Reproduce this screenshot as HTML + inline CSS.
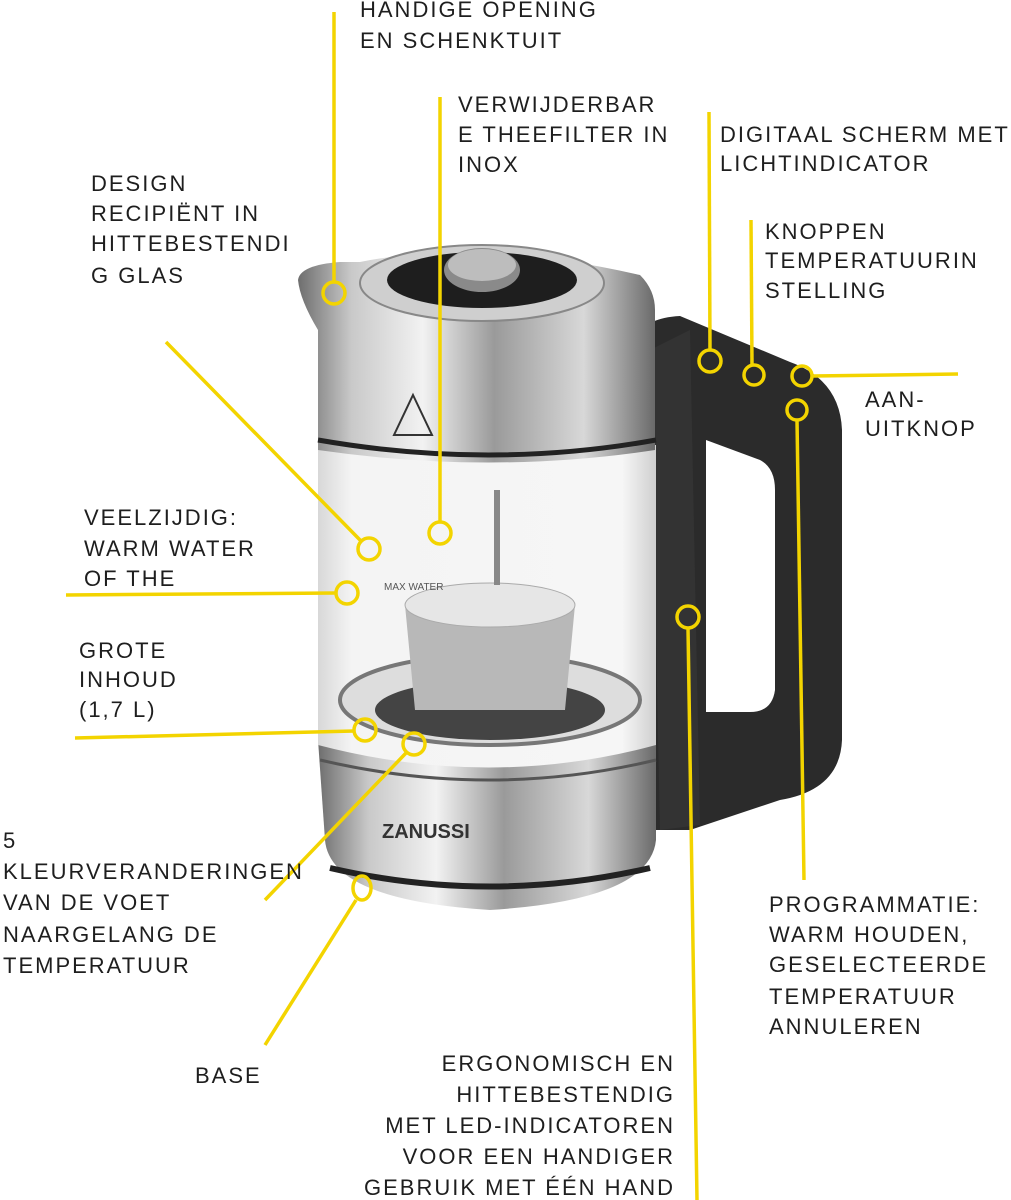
<!DOCTYPE html>
<html><head><meta charset="utf-8"><style>
html,body{margin:0;padding:0;background:#fff}
svg{display:block}
text{font-family:"Liberation Sans",sans-serif;font-size:22px;fill:#1e1e1e;letter-spacing:2px}
</style></head><body>
<svg width="1011" height="1200" viewBox="0 0 1011 1200" xmlns="http://www.w3.org/2000/svg">
<defs>
<linearGradient id="steel" x1="0" x2="1" y1="0" y2="0">
<stop offset="0" stop-color="#6e6e6e"/><stop offset="0.15" stop-color="#c9c9c9"/><stop offset="0.35" stop-color="#f2f2f2"/><stop offset="0.55" stop-color="#9a9a9a"/><stop offset="0.8" stop-color="#d8d8d8"/><stop offset="1" stop-color="#6a6a6a"/>
</linearGradient>
<linearGradient id="glass" x1="0" x2="1">
<stop offset="0" stop-color="#d8d8d8"/><stop offset="0.1" stop-color="#f4f4f4"/><stop offset="0.9" stop-color="#f6f6f6"/><stop offset="1" stop-color="#cfcfcf"/>
</linearGradient>
</defs>
<!-- handle -->
<path d="M632,345 Q640,318 680,316 L790,362 Q840,380 842,430 L842,740 Q840,790 780,800 L690,830 L655,830 L655,360 Z" fill="#2b2b2b"/>
<path d="M706,440 L760,460 Q775,468 775,490 L775,690 Q772,712 750,712 L706,712 Z" fill="#fff"/>
<path d="M650,350 L690,330 L700,825 L660,830 Z" fill="#333"/>
<!-- base -->
<path d="M318,740 L656,740 L656,840 Q650,900 490,910 Q330,900 325,840 Z" fill="url(#steel)"/>
<path d="M330,868 Q490,905 650,868" stroke="#222" stroke-width="6" fill="none"/>
<path d="M320,760 Q490,800 656,760" stroke="#555" stroke-width="3" fill="none"/>
<text x="382" y="838" style="font-size:20px;font-weight:bold;fill:#333;letter-spacing:0">ZANUSSI</text>
<!-- glass -->
<path d="M318,445 L656,445 L656,745 Q490,790 318,745 Z" fill="url(#glass)"/>
<ellipse cx="490" cy="700" rx="150" ry="45" fill="#ddd" stroke="#777" stroke-width="4"/>
<ellipse cx="490" cy="710" rx="115" ry="30" fill="#444"/>
<path d="M405,605 L575,605 L565,710 L415,710 Z" fill="#b8b8b8"/>
<ellipse cx="490" cy="605" rx="85" ry="22" fill="#e6e6e6" stroke="#aaa"/>
<rect x="494" y="490" width="6" height="95" fill="#888"/>
<text x="384" y="590" style="font-size:10px;fill:#555;letter-spacing:0">MAX WATER</text>
<!-- upper steel body -->
<path d="M298,280 Q300,265 340,262 L360,262 Q480,238 640,275 Q655,290 655,310 L655,450 Q490,475 318,450 L318,330 Q300,300 298,280 Z" fill="url(#steel)"/>
<path d="M318,440 Q490,470 656,440" stroke="#222" stroke-width="5" fill="none"/>
<ellipse cx="482" cy="283" rx="122" ry="38" fill="#cfcfcf" stroke="#888" stroke-width="2"/>
<ellipse cx="482" cy="280" rx="95" ry="28" fill="#1e1e1e"/>
<ellipse cx="482" cy="270" rx="38" ry="22" fill="#8a8a8a"/>
<ellipse cx="482" cy="265" rx="34" ry="16" fill="#bdbdbd"/>
<path d="M413,395 L432,435 L394,435 Z" fill="none" stroke="#333" stroke-width="2"/>
<!-- yellow annotations -->
<g stroke="#f3d400" stroke-width="3.5" fill="none">
<line x1="334" y1="12" x2="334" y2="282"/><circle cx="334" cy="293" r="11"/>
<line x1="440" y1="97" x2="440" y2="522"/><circle cx="440" cy="533" r="11"/>
<line x1="709" y1="112" x2="710" y2="350"/><circle cx="710" cy="361" r="11"/>
<line x1="751" y1="220" x2="752" y2="364"/><circle cx="754" cy="375" r="10"/>
<line x1="958" y1="374" x2="813" y2="376"/><circle cx="802" cy="376" r="10"/>
<circle cx="797" cy="410" r="10"/><line x1="797" y1="420" x2="804" y2="880"/>
<line x1="166" y1="342" x2="361" y2="541"/><circle cx="369" cy="549" r="11"/>
<line x1="66" y1="595" x2="336" y2="593"/><circle cx="347" cy="593" r="11"/>
<line x1="75" y1="738" x2="354" y2="731"/><circle cx="365" cy="730" r="11"/>
<circle cx="414" cy="744" r="11"/><line x1="406" y1="753" x2="265" y2="900"/>
<ellipse cx="362" cy="888" rx="9" ry="12"/><line x1="356" y1="900" x2="265" y2="1045"/>
<circle cx="688" cy="617" r="11"/><line x1="688" y1="628" x2="697" y2="1200"/>
</g>
<!-- labels -->
<text x="360" y="17">HANDIGE OPENING</text><text x="360" y="48">EN SCHENKTUIT</text>
<text x="458" y="112">VERWIJDERBAR</text><text x="458" y="142">E THEEFILTER IN</text><text x="458" y="172">INOX</text>
<text x="720" y="142">DIGITAAL SCHERM MET</text><text x="720" y="171">LICHTINDICATOR</text>
<text x="91" y="191">DESIGN</text><text x="91" y="221">RECIPIËNT IN</text><text x="91" y="251">HITTEBESTENDI</text><text x="91" y="283">G GLAS</text>
<text x="765" y="239">KNOPPEN</text><text x="765" y="268">TEMPERATUURIN</text><text x="765" y="298">STELLING</text>
<text x="865" y="407">AAN-</text><text x="865" y="436">UITKNOP</text>
<text x="84" y="525">VEELZIJDIG:</text><text x="84" y="556">WARM WATER</text><text x="84" y="586">OF THE</text>
<text x="79" y="658">GROTE</text><text x="79" y="687">INHOUD</text><text x="79" y="717">(1,7 L)</text>
<text x="3" y="848">5</text><text x="3" y="879">KLEURVERANDERINGEN</text><text x="3" y="910">VAN DE VOET</text><text x="3" y="942">NAARGELANG DE</text><text x="3" y="973">TEMPERATUUR</text>
<text x="195" y="1083">BASE</text>
<text x="769" y="912">PROGRAMMATIE:</text><text x="769" y="942">WARM HOUDEN,</text><text x="769" y="972">GESELECTEERDE</text><text x="769" y="1004">TEMPERATUUR</text><text x="769" y="1034">ANNULEREN</text>
<g text-anchor="end">
<text x="675" y="1071">ERGONOMISCH EN</text><text x="675" y="1102">HITTEBESTENDIG</text><text x="675" y="1133">MET LED-INDICATOREN</text><text x="675" y="1164">VOOR EEN HANDIGER</text><text x="675" y="1195">GEBRUIK MET ÉÉN HAND</text>
</g>
</svg>
</body></html>
